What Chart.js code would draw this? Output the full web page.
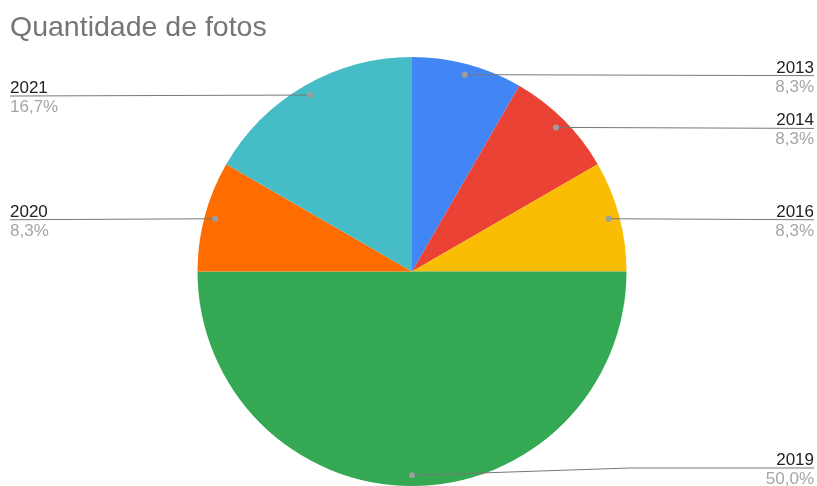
<!DOCTYPE html>
<html>
<head>
<meta charset="utf-8">
<script src="https://cdn.jsdelivr.net/npm/chart.js@4/dist/chart.umd.min.js"></script>
<style>
  html, body { margin: 0; padding: 0; background: #fff; }
  #wrap { width: 817px; height: 486px; position: relative; }
</style>
</head>
<body>
<div id="wrap"><canvas id="fotosChart"></canvas></div>
<script>
// Data
const years = ["2013", "2014", "2016", "2019", "2020", "2021"];
const fotos = [1, 1, 1, 6, 1, 2];
const sliceColors = ["#4285F4", "#EA4335", "#FBBC04", "#34A853", "#FF6D01", "#46BDC6"];
const chartTitle = "Quantidade de fotos";

// Title + leader lines with labels, drawn after the slices
const labelPlugin = {
    id: "leaderLabels",
    afterDatasetsDraw(chart) {
        const ctx = chart.ctx;
        const area = chart.chartArea;
        const meta = chart.getDatasetMeta(0);
        const total = fotos.reduce((a, b) => a + b, 0);
        const W = chart.width, H = chart.height;
        const font = "Arial, 'Liberation Sans', sans-serif";

        ctx.save();
        // title
        ctx.fillStyle = "#757575";
        ctx.font = "28.5px " + font;
        ctx.textAlign = "left";
        ctx.textBaseline = "alphabetic";
        ctx.fillText(chartTitle, 10, 36);

        meta.data.forEach((arc, i) => {
            const mid = (arc.startAngle + arc.endAngle) / 2;
            const r = arc.outerRadius * 0.95;
            const dx = arc.x + Math.cos(mid) * r;
            const dy = arc.y + Math.sin(mid) * r;
            const right = Math.cos(mid) >= -1e-6;
            const lineY = Math.min(dy + 1, H - 18);
            const endX = right ? W - 3 : 10;

            ctx.strokeStyle = "#777";
            ctx.lineWidth = 1;
            ctx.beginPath();
            ctx.moveTo(dx, dy);
            if (Math.abs(lineY - dy) > 2) {
                const elbowX = right ? area.right + 3 : area.left - 3;
                ctx.lineTo(elbowX, lineY);
            }
            ctx.lineTo(endX, lineY);
            ctx.stroke();

            ctx.fillStyle = "#9e9e9e";
            ctx.beginPath();
            ctx.arc(dx, dy, 3, 0, Math.PI * 2);
            ctx.fill();

            ctx.textAlign = right ? "right" : "left";
            ctx.font = "17px " + font;
            ctx.fillStyle = "#222";
            ctx.fillText(years[i], endX, lineY - 3);
            const pct = (fotos[i] / total * 100).toFixed(1).replace(".", ",") + "%";
            ctx.fillStyle = "#a5a5a5";
            ctx.fillText(pct, endX, lineY + 16);
        });
        ctx.restore();
    }
};

const ctx = document.getElementById("fotosChart").getContext("2d");
new Chart(ctx, {
    type: "pie",
    data: {
        labels: years,
        datasets: [{
            data: fotos,
            backgroundColor: sliceColors,
            borderWidth: 0
        }]
    },
    options: {
        responsive: true,
        maintainAspectRatio: false,
        animation: false,
        layout: {
            padding: { top: 57, bottom: 0, left: 197, right: 190 }
        },
        plugins: {
            legend: { display: false },
            title: { display: false },
            tooltip: { enabled: false }
        }
    },
    plugins: [labelPlugin]
});
</script>
</body>
</html>
